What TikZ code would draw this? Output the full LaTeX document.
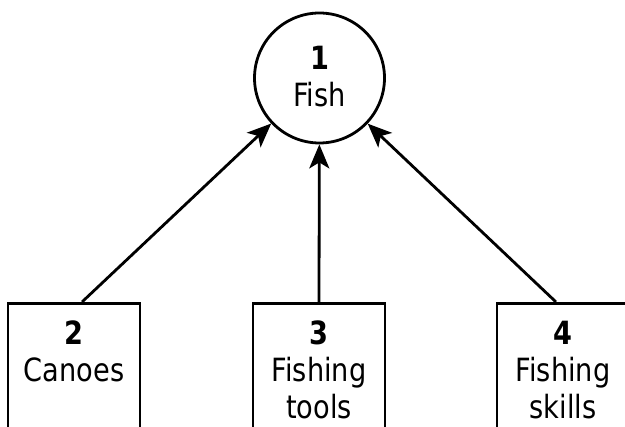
\documentclass[tikz,border=0pt]{standalone}
\usepackage{fontspec}
\setmainfont{DejaVu Sans}[FakeStretch=0.85]
\usetikzlibrary{arrows.meta}
\tikzset{
  lw/.style={line width=2.8pt},
  circ/.style={lw, draw, circle, minimum size=130pt, inner sep=0pt, align=center},
  boxnode/.style={lw, draw, rectangle, anchor=north, inner sep=2pt, minimum width=132pt, minimum height=132pt},
  conn/.style={lw, -{Stealth[length=24pt, width=20pt, inset=6pt]}}
}
\newcommand{\boxtext}[1]{\parbox[c][128pt][t]{128pt}{\centering\rule{0pt}{39pt}#1}}
\begin{document}
\begin{tikzpicture}[x=1pt,y=1pt,font=\fontsize{32pt}{37pt}\selectfont]
\useasboundingbox (0,0) rectangle (625,-427);
\clip (0,0) rectangle (625,-427);
\node[circ] (c1) at (319.5,-78) {\raisebox{3pt}{\textbf{1}}\\\raisebox{3pt}{Fish}};
\node[boxnode] (b2) at (74,-302) {\boxtext{\textbf{2}\\Canoes}};
\node[boxnode] (b3) at (319,-302) {\boxtext{\textbf{3}\\Fishing\\tools}};
\node[boxnode] (b4) at (563,-302) {\boxtext{\textbf{4}\\Fishing\\skills}};
\draw[conn] ([xshift=8pt]b2.north) -- (c1);
\draw[conn] (b3.north) -- (c1);
\draw[conn] ([xshift=-7pt]b4.north) -- (c1);
\end{tikzpicture}
\end{document}
